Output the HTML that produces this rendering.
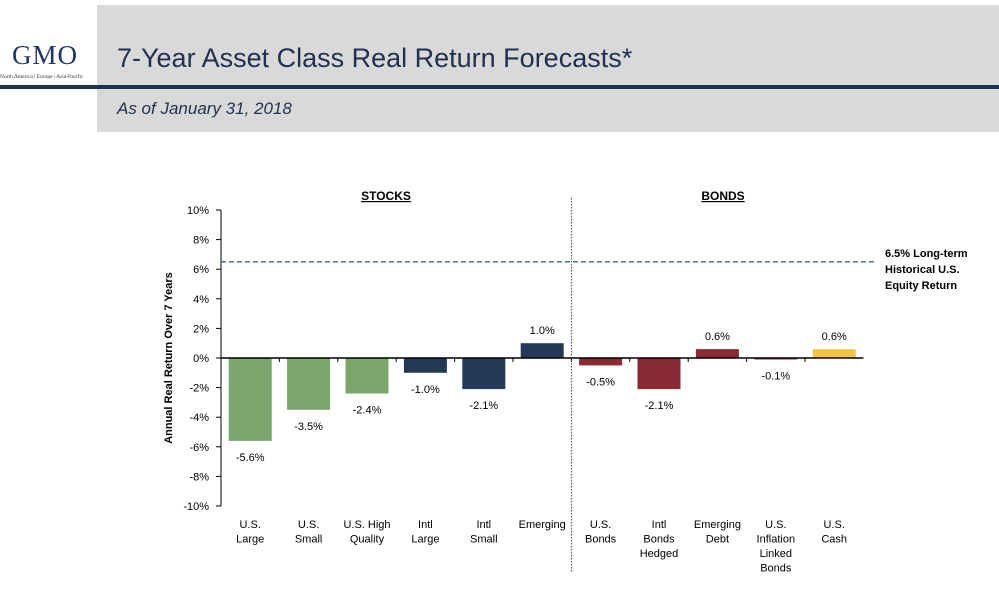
<!DOCTYPE html>
<html><head><meta charset="utf-8"><style>
body{margin:0;width:999px;height:609px;background:#fff;font-family:"Liberation Sans",sans-serif;overflow:hidden;position:relative}
.abs{position:absolute}
</style></head><body>
<div class="abs" style="left:97px;top:5px;width:902px;height:80px;background:#d9d9d9"></div>
<div class="abs" style="left:0;top:85px;width:999px;height:4px;background:#1f3050"></div>
<div class="abs" style="left:97px;top:89px;width:902px;height:43px;background:#d9d9d9"></div>
<div class="abs" style="left:12px;top:40px;font-family:'Liberation Serif',serif;font-size:27px;color:#1f3566;letter-spacing:1px">GMO</div>
<div class="abs" style="left:0;top:74px;font-family:'Liberation Serif',serif;font-size:5.5px;color:#333;white-space:nowrap">North America | Europe | Asia-Pacific</div>
<div class="abs" style="left:117px;top:43px;font-size:27px;color:#1f3050">7-Year Asset Class Real Return Forecasts*</div>
<div class="abs" style="left:117px;top:99px;font-size:17px;font-style:italic;color:#1f3050">As of January 31, 2018</div>
<svg class="abs" style="left:0;top:0" width="999" height="609" id="chart"></svg>
<script>
const categories=[["U.S.","Large"],["U.S.","Small"],["U.S. High","Quality"],["Intl","Large"],["Intl","Small"],["Emerging"],["U.S.","Bonds"],["Intl","Bonds","Hedged"],["Emerging","Debt"],["U.S.","Inflation","Linked","Bonds"],["U.S.","Cash"]];
const values=[-5.6,-3.5,-2.4,-1.0,-2.1,1.0,-0.5,-2.1,0.6,-0.1,0.6];
const valueLabels=["-5.6%","-3.5%","-2.4%","-1.0%","-2.1%","1.0%","-0.5%","-2.1%","0.6%","-0.1%","0.6%"];
const colors=["#7aa66c","#7aa66c","#7aa66c","#243858","#243858","#243858","#8b2a35","#8b2a35","#8b2a35","#8b2a35","#f5c342"];
const yTicks=[10,8,6,4,2,0,-2,-4,-6,-8,-10];
const historical=6.5;
const svg=document.getElementById('chart');const NS='http://www.w3.org/2000/svg';
const L=221,band=58.4,y0=358,ppu=14.8;
const y=v=>y0-v*ppu, xc=i=>L+band*(i+0.5);
function mk(t,a,txt){const e=document.createElementNS(NS,t);for(const k in a)e.setAttribute(k,a[k]);if(txt!=null)e.textContent=txt;svg.appendChild(e);return e;}
let e=mk('line',{x1:L,y1:y(10),x2:L,y2:y(-10),stroke:'#000','stroke-width':1});

yTicks.forEach(t=>{let tk=mk('line',{x1:L-5,x2:L,y1:y(t),y2:y(t),stroke:'#000'});

let lb=mk('text',{x:L-12,y:y(t)+4,'text-anchor':'end','font-size':11,fill:'#000'},t+'%');
});
let yt=mk('text',{x:0,y:0,transform:`translate(172,${y(0)}) rotate(-90)`,'text-anchor':'middle','font-size':11,'font-weight':'bold'},'Annual Real Return Over 7 Years');

values.forEach((v,i)=>{const w=43,x=xc(i)-w/2;
let b=mk('rect',{x:x,y:Math.min(y(v),y0),width:w,height:Math.max(Math.abs(y(v)-y0),1),fill:colors[i]});

let ly=v>=0?y(v)-9:y(v)+20;
let vl=mk('text',{x:xc(i),y:ly,'text-anchor':'middle','font-size':11},valueLabels[i]);

categories[i].forEach((s,j)=>{let c=mk('text',{x:xc(i),y:528+j*14.5,'text-anchor':'middle','font-size':11},s);
});
if(i>0){let tk=mk('line',{x1:L+band*i,x2:L+band*i,y1:y0,y2:y0+4,stroke:'#000'});}
});
e=mk('line',{x1:L,x2:L+band*11,y1:y0,y2:y0,stroke:'#000','stroke-width':1.5});

e=mk('line',{x1:L,x2:875,y1:y(historical),y2:y(historical),stroke:'#4f7088','stroke-width':1.5,'stroke-dasharray':'5,3'});

['6.5% Long-term','Historical U.S.','Equity Return'].forEach((s,j)=>{let t=mk('text',{x:885,y:257+j*16,'font-size':11,'font-weight':'bold'},s);
});
e=mk('line',{x1:L+band*6,x2:L+band*6,y1:198,y2:572,stroke:'#444','stroke-dasharray':'1.5,1.5'});

e=mk('text',{x:386,y:200,'text-anchor':'middle','font-size':12,'font-weight':'bold','text-decoration':'underline'},'STOCKS');

e=mk('text',{x:723,y:200,'text-anchor':'middle','font-size':12,'font-weight':'bold','text-decoration':'underline'},'BONDS');

</script>
</body></html>
